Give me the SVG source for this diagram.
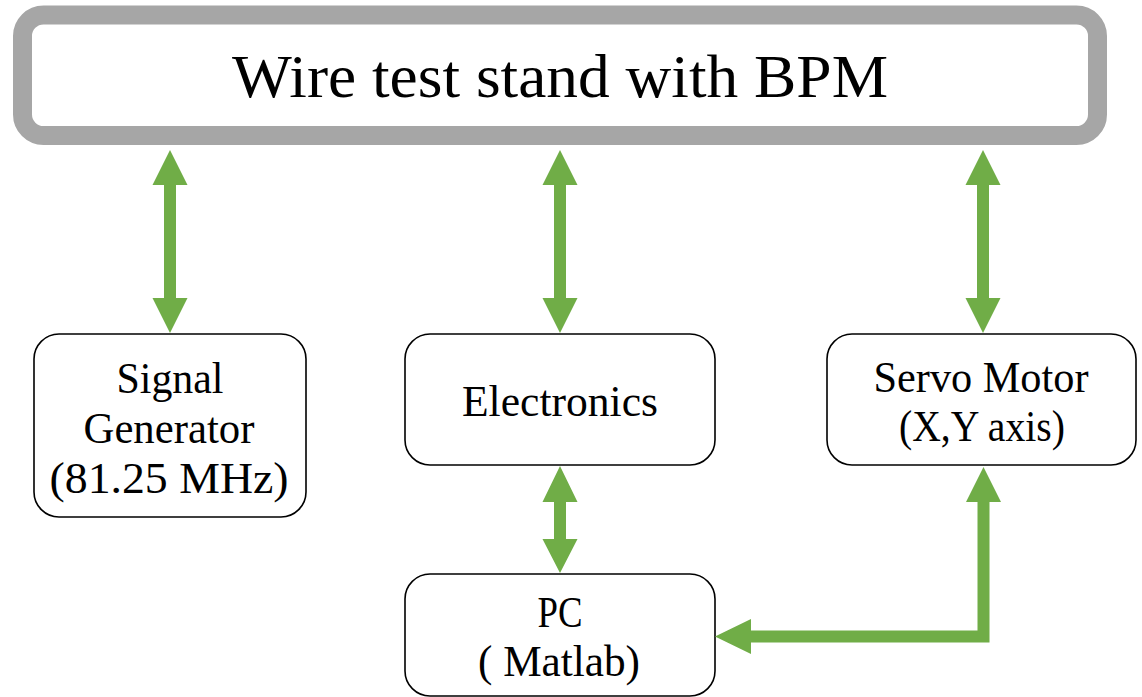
<svg xmlns="http://www.w3.org/2000/svg" width="1142" height="697" viewBox="0 0 1142 697">
<style>
.box{fill:#fff;stroke:#000;stroke-width:1.6}
.t{font-family:"Liberation Serif","Times New Roman",serif;font-size:44px;fill:#000;text-anchor:middle}
.arr{fill:#70ad47}
</style>
<rect width="1142" height="697" fill="#fff"/>
<g id="top">
<rect x="22.5" y="15" width="1075" height="120.5" rx="21" fill="#fff" stroke="#a6a6a6" stroke-width="19"/>
<text x="560" y="97" font-family="Liberation Serif, Times New Roman, serif" font-size="62" text-anchor="middle" textLength="656" lengthAdjust="spacingAndGlyphs">Wire test stand with BPM</text>
</g>
<g id="signal">
<rect class="box" x="34" y="334" width="272" height="183" rx="25"/>
<text class="t" x="170" y="393" textLength="107" lengthAdjust="spacingAndGlyphs">Signal</text>
<text class="t" x="169" y="443" textLength="171" lengthAdjust="spacingAndGlyphs">Generator</text>
<text class="t" x="169" y="493" textLength="239" lengthAdjust="spacingAndGlyphs">(81.25 MHz)</text>
</g>
<g id="electronics">
<rect class="box" x="405" y="334" width="310" height="131" rx="25"/>
<text class="t" x="560" y="416" textLength="196" lengthAdjust="spacingAndGlyphs">Electronics</text>
</g>
<g id="servo">
<rect class="box" x="827" y="334" width="309" height="131" rx="25"/>
<text class="t" x="981" y="392" textLength="215" lengthAdjust="spacingAndGlyphs">Servo Motor</text>
<text class="t" x="982" y="441" textLength="166" lengthAdjust="spacingAndGlyphs">(X,Y axis)</text>
</g>
<g id="pc">
<rect class="box" x="405" y="574" width="310" height="122" rx="25"/>
<text class="t" x="560" y="627" textLength="45" lengthAdjust="spacingAndGlyphs">PC</text>
<text class="t" x="559" y="676" textLength="162" lengthAdjust="spacingAndGlyphs">( Matlab)</text>
</g>
<g id="connectors">
<polygon class="arr" points="170,150 187.5,185 176,185 176,298 187.5,298 170,333 152.5,298 164,298 164,185 152.5,185"/>
<polygon class="arr" points="560,150 577.5,185 566,185 566,298 577.5,298 560,333 542.5,298 554,298 554,185 542.5,185"/>
<polygon class="arr" points="983,150 1000.5,185 989,185 989,298 1000.5,298 983,333 965.5,298 977,298 977,185 965.5,185"/>
<polygon class="arr" points="560,466 577.5,502 566,502 566,539 577.5,539 560,573 542.5,539 554,539 554,502 542.5,502"/>
<polygon class="arr" points="983.5,467 1001,502 989.5,502 989.5,642.5 751,642.5 751,654 715,636.5 751,619 751,630.5 977.5,630.5 977.5,502 966,502"/>
</g>
</svg>
